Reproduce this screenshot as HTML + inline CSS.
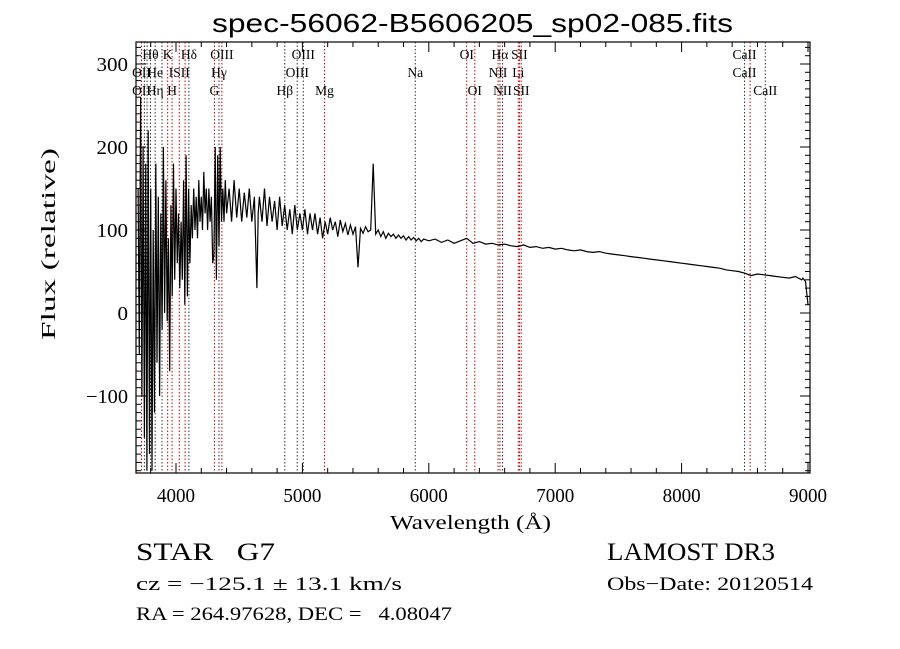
<!DOCTYPE html>
<html><head><meta charset="utf-8"><style>
body{margin:0;background:#fff;width:900px;height:649px;overflow:hidden}
svg{display:block}
text{font-family:"Liberation Serif",serif;fill:#000}
</style></head><body>
<svg id="chart" width="900" height="649" viewBox="0 0 900 649">
<text x="212" y="32" font-size="26" textLength="521" lengthAdjust="spacingAndGlyphs" style="font-family:'Liberation Sans',sans-serif">spec-56062-B5606205_sp02-085.fits</text>
<g id="lines"></g>
<g id="spec"></g>
<rect x="136" y="42" width="674" height="431" fill="none" stroke="#000" stroke-width="1.2"/>
<g id="ticks"></g>
<text x="390" y="529" font-size="20" textLength="161" lengthAdjust="spacingAndGlyphs">Wavelength (Å)</text>
<text transform="translate(55 340) rotate(-90)" font-size="20" textLength="192" lengthAdjust="spacingAndGlyphs">Flux (relative)</text>
<text x="136" y="560" font-size="25" textLength="139" lengthAdjust="spacingAndGlyphs">STAR &#160;&#160;G7</text>
<text x="607" y="560" font-size="25" textLength="168" lengthAdjust="spacingAndGlyphs">LAMOST DR3</text>
<text x="136" y="590" font-size="19" textLength="266" lengthAdjust="spacingAndGlyphs">cz = −125.1 ± 13.1 km/s</text>
<text x="607" y="590" font-size="19" textLength="206" lengthAdjust="spacingAndGlyphs">Obs−Date: 20120514</text>
<text x="136" y="620" font-size="19" textLength="316" lengthAdjust="spacingAndGlyphs">RA = 264.97628, DEC = &#160;&#160;4.08047</text>
</svg>
<script>
const xTicks=[4000,5000,6000,7000,8000,9000];
const yTicks=[-100,0,100,200,300];
const lineWaves=[3727,3750,3771,3798,3835,3889,3934,3969,4026,4072,4102,4304,4340,4363,4861,4959,5007,5175,5893,6300,6364,6548,6563,6583,6708,6717,6731,8498,8542,8662];
const lineRed=[1,0,0,0,0,0,1,1,1,1,0,1,0,1,0,0,0,1,0,1,1,1,0,1,1,1,1,0,1,0];
const lineLabels=[["OII",3727,3],["Hθ",3798,1],["He",3835,2],["Hη",3835,3],["K",3934,1],["H",3969,3],["ISII",4026,2],["Hδ",4102,1],["OIII",4363,1],["Hγ",4340,2],["G",4304,3],["Hβ",4861,3],["OIII",5007,1],["OIII",4959,2],["Mg",5175,3],["Na",5893,2],["OI",6300,1],["OI",6364,3],["Hα",6563,1],["SII",6717,1],["NII",6548,2],["Li",6708,2],["NII",6583,3],["SII",6731,3],["CaII",8498,1],["CaII",8498,2],["CaII",8662,3],["OII",3727,2]];
const waves=[
3700,3710,3720,3730,3740,3750,3760,3770,3780,3790,
3800,3810,3820,3830,3840,3850,3860,3870,3880,3890,
3900,3910,3920,3930,3940,3950,3960,3970,3980,3990,
4000,4010,4020,4030,4040,4050,4060,4070,4080,4090,
4100,4110,4120,4130,4140,4150,4160,4170,4180,4190,
4200,4210,4220,4230,4240,4250,4260,4270,4280,4290,
4300,4310,4320,4330,4340,4350,4360,4370,4380,4390,
4400,4420,4440,4460,4480,4500,4520,4540,4560,4580,
4600,4620,4640,4650,4660,4680,4700,4720,4740,4760,
4780,4800,4820,4840,4860,4880,4900,4920,4940,4960,
4980,5000,5020,5040,5060,5080,5100,5120,5140,5160,
5180,5200,5220,5240,5260,5280,5300,5320,5340,5360,
5380,5400,5420,5440,5460,5480,5500,5520,5540,5560,
5580,5600,5620,5640,5660,5680,5700,5720,5740,5760,
5780,5800,5820,5840,5860,5880,5900,5920,5940,5960,
6000,6050,6100,6150,6200,6250,6300,6350,6400,6450,
6500,6550,6600,6650,6700,6750,6800,6850,6900,6950,
7000,7050,7100,7150,7200,7250,7300,7350,7400,7450,
7500,7550,7600,7650,7700,7750,7800,7850,7900,7950,
8000,8050,8100,8150,8200,8250,8300,8350,8400,8450,
8500,8550,8600,8650,8700,8750,8800,8850,8900,8950,
8960,8980,9000];
const flux=[
150,-50,260,-100,200,-150,180,-190,220,-170,
150,-190,100,-120,180,-60,140,-100,120,-20,
200,0,160,-10,90,-70,130,20,180,40,
150,60,120,30,110,40,160,10,190,20,
150,60,130,90,150,100,140,90,160,110,
140,100,170,120,150,100,150,110,140,60,
70,200,40,190,80,200,110,150,110,160,
120,150,110,160,115,150,110,145,115,150,
110,140,30,120,140,110,150,105,140,110,
135,100,140,105,130,100,125,95,130,100,
120,100,125,95,120,100,120,95,115,90,
110,95,115,100,110,92,112,98,108,94,
106,95,104,55,102,96,104,98,100,180,
95,100,92,98,90,96,92,95,90,94,
90,93,88,92,88,91,87,90,86,89,
87,89,85,88,84,87,90,84,86,83,
84,82,83,81,80,82,79,80,78,79,
77,78,76,75,76,74,73,74,72,71,
70,69,68,67,66,65,64,63,62,61,
60,59,58,57,56,55,54,52,51,50,
48,45,47,46,45,44,43,42,44,40,
42,38,10];
const X=w=>176+(w-4000)*0.1264;
const Y=f=>313-f*0.83;
const NS="http://www.w3.org/2000/svg";
function mk(tag,attrs,parent){const e=document.createElementNS(NS,tag);for(const k in attrs)e.setAttribute(k,attrs[k]);parent.appendChild(e);return e;}
const lg=document.getElementById('lines');
lineWaves.forEach((w,i)=>{const l=mk('line',{x1:X(w),x2:X(w),y1:42,y2:473,stroke:lineRed[i]?'#c00':'#333','stroke-width':1,'stroke-dasharray':'1.5,2'},lg);

});
lineLabels.forEach(([t,w,r])=>{const e=mk('text',{x:X(w),y:41+r*18,'font-size':13.5,'text-anchor':'middle'},lg);e.textContent=t;

});
const sg=document.getElementById('spec');
const n=Math.min(waves.length,flux.length);
const pts=[];for(let i=0;i<n;i++)pts.push(X(waves[i]).toFixed(1)+','+Math.max(42,Math.min(473,Y(flux[i]))).toFixed(1));
const p=mk('polyline',{points:pts.join(' '),fill:'none',stroke:'#000','stroke-width':1.2},sg);


const tg=document.getElementById('ticks');
for(let w=3800;w<=9000;w+=200){const big=w%1000===0;const x=X(w);
mk('line',{x1:x,x2:x,y1:473,y2:473-(big?10:5),stroke:'#000'},tg);mk('line',{x1:x,x2:x,y1:42,y2:42+(big?10:5),stroke:'#000'},tg);}
xTicks.forEach(w=>{const t=mk('text',{x:X(w)-19,y:502,'font-size':20,textLength:38,lengthAdjust:'spacingAndGlyphs'},tg);t.textContent=w;

});
for(let f=-190;f<=320;f+=10){const big=f%100===0;const y=Y(f);
mk('line',{x1:136,x2:136+(big?10:5),y1:y,y2:y,stroke:'#000'},tg);mk('line',{x1:810,x2:810-(big?10:5),y1:y,y2:y,stroke:'#000'},tg);}
yTicks.forEach(f=>{const s=f<0?'−'+(-f):String(f);const w=s.length*10.5;const t=mk('text',{x:128-w,y:Y(f)+7,'font-size':20,textLength:w,lengthAdjust:'spacingAndGlyphs'},tg);t.textContent=s;

});
</script>
</body></html>
